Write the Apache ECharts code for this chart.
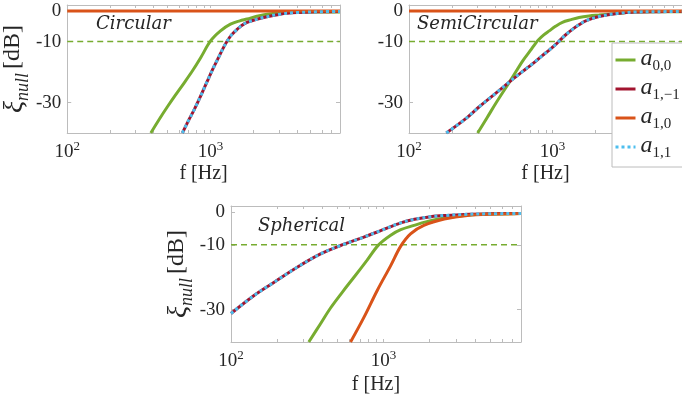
<!DOCTYPE html>
<html>
<head>
<meta charset="utf-8">
<script src="https://cdn.jsdelivr.net/npm/echarts@6/dist/echarts.min.js"></script>
<style>
html, body { margin: 0; padding: 0; background: #fff; }
#container { width: 682px; height: 402px; }
</style>
</head>
<body>
<div id="container"></div>
<script>
// panel titles and legend entries
var panelTitles = ['Circular', 'SemiCircular', 'Spherical'];
var legendNames = ['a00', 'a1m1', 'a10', 'a11'];
var legendSubs = { a00: '0,0', a1m1: '1,\u22121', a10: '1,0', a11: '1,1' };

// axis ticks
var xLabelTicks = [100, 1000];
var xMinorTicks = [100, 200, 300, 400, 500, 600, 700, 800, 900, 1000, 2000, 3000, 4000, 5000, 6000, 7000, 8000];
var yTicks = [-30, -10, 0];

// -10 dB threshold line
var thresholdFreq = [100, 8000];
var thresholdDb = [-10, -10];

// Circular
var circFreqA00 = [383, 440, 500, 570, 653, 750, 853, 1000, 1173, 1377, 1600, 1798, 2100, 2477, 3235, 4500, 6000, 8000];
var circA00 = [-40, -35.4, -31.4, -27.5, -23.6, -19.5, -15.3, -9.8, -6.5, -4.3, -3.2, -2.6, -1.7, -1.0, -0.5, -0.3, -0.3, -0.3];
var circFreqA1 = [636, 700, 766, 860, 949, 1050, 1143, 1220, 1300, 1400, 1532, 1650, 1798, 2100, 2345, 3062, 4000, 6000, 8000];
var circA1 = [-40, -36, -32.5, -27.5, -23, -18.5, -15, -12.3, -10, -7.8, -6, -4.7, -3.7, -2.7, -2.1, -1.0, -0.5, -0.2, -0.1];
var circFreqA10 = [100, 8000];
var circA10 = [0, 0];

// SemiCircular
var semiFreqA00 = [301, 350, 406, 514, 619, 700, 767, 800, 870, 949, 1050, 1173, 1350, 1532, 1800, 2110, 2905, 3800, 5500, 8000];
var semiA00 = [-40, -35, -30, -22.5, -16.4, -13, -10.4, -9.4, -7.8, -6.5, -5, -3.7, -2.8, -2.1, -1.6, -1.3, -0.7, -0.3, -0.2, -0.2];
var semiFreqA1 = [182, 250, 310, 426, 514, 620, 726, 850, 949, 1050, 1143, 1250, 1377, 1530, 1706, 2110, 2905, 3800, 5500, 8000];
var semiA1 = [-40, -35.2, -31.3, -26, -22.8, -19.8, -17.3, -14.6, -12.8, -11, -9.3, -7.6, -6, -4.5, -3.2, -1.8, -0.7, -0.3, -0.2, -0.1];
var semiFreqA10 = [100, 8000];
var semiA10 = [0, 0];

// Spherical
var sphFreqA00 = [324, 385, 450, 540, 641, 780, 930, 1117, 1300, 1587, 1900, 2265, 2800, 3390, 5080, 8000];
var sphA00 = [-40, -34.5, -29.5, -24.5, -20, -14.8, -10, -7, -5.3, -4, -2.9, -2.1, -1.4, -0.9, -0.5, -0.3];
var sphFreqA1 = [100, 141, 191, 272, 387, 524, 745, 960, 1300, 1600, 2048, 2600, 3390, 5000, 8000];
var sphA1 = [-31.2, -25.7, -21.6, -16.9, -12.8, -10.2, -7.6, -5.6, -3.2, -2.1, -1.3, -0.9, -0.6, -0.4, -0.3];
var sphFreqA10 = [609, 745, 913, 1117, 1300, 1507, 1843, 2510, 3560, 5580, 8000];
var sphA10 = [-40, -32.4, -24, -16.4, -10.4, -6.6, -4, -2, -0.9, -0.5, -0.3];

var panels = [
    { a00: [circFreqA00, circA00], a1: [circFreqA1, circA1], a10: [circFreqA10, circA10] },
    { a00: [semiFreqA00, semiA00], a1: [semiFreqA1, semiA1], a10: [semiFreqA10, semiA10] },
    { a00: [sphFreqA00, sphA00], a1: [sphFreqA1, sphA1], a10: [sphFreqA10, sphA10] }
];

var serif = "'Liberation Serif', 'DejaVu Serif', serif";
var titleFont = "'DejaVu Serif', 'Liberation Serif', serif";
var textColor = '#262626';
var boxColor = '#bcbcbc';
var colors = { a00: '#77AC30', a1m1: '#A2142F', a10: '#D95319', a11: '#4DBEEE' };

var grids = [
    { left: 66, top: 5, width: 274, height: 128 },
    { left: 409, top: 5, width: 274, height: 128 },
    { left: 231, top: 206, width: 290, height: 136 }
];
var titlePos = [[96, 15], [417, 15], [258, 217]];

var dom = document.getElementById('container');
var myChart = echarts.init(dom);

function pairs(f, v) {
    return f.map(function (x, i) { return [x, v[i]]; });
}

var xAxes = [], yAxes = [], series = [], titles = [];

grids.forEach(function (g, i) {
    var baseX = {
        gridIndex: i, type: 'log', logBase: 10, min: 100, max: 8000,
        axisLine: { show: true, onZero: false, lineStyle: { color: boxColor, width: 1 } },
        axisTick: { inside: true, length: 3, customValues: xMinorTicks, lineStyle: { color: boxColor } },
        splitLine: { show: false }, minorTick: { show: false }
    };
    xAxes.push(echarts.util.merge({
        position: 'bottom',
        axisLabel: {
            customValues: xLabelTicks, margin: 7, color: textColor,
            formatter: function (v) { return '{b|10}{p|' + Math.round(Math.log10(v)) + '}'; },
            rich: {
                b: { fontFamily: serif, fontSize: 19, lineHeight: 24, color: textColor },
                p: { fontFamily: serif, fontSize: 13, lineHeight: 13, verticalAlign: 'top', color: textColor }
            }
        },
        name: 'f [Hz]', nameLocation: 'middle', nameGap: i === 2 ? 33 : 31,
        nameTextStyle: { fontFamily: serif, fontSize: 20, color: textColor }
    }, baseX, true));
    xAxes.push(echarts.util.merge({ position: 'top', axisLabel: { show: false } }, baseX, true));

    var baseY = {
        gridIndex: i, type: 'value', min: -40, max: 2,
        axisLine: { show: true, onZero: false, lineStyle: { color: boxColor, width: 1 } },
        axisTick: { inside: true, length: 4, customValues: yTicks, lineStyle: { color: boxColor } },
        splitLine: { show: false }
    };
    var yLeft = echarts.util.merge({
        position: 'left',
        axisLabel: { customValues: yTicks, margin: 6, fontFamily: serif, fontSize: 19, color: textColor }
    }, baseY, true);
    if (i !== 1) {
        yLeft.name = '{x|\u03BE}{s|null}{n|[dB]}';
        yLeft.nameLocation = 'middle';
        yLeft.nameRotate = 90;
        yLeft.nameGap = i === 2 ? 36 : 38;
        yLeft.nameTextStyle = {
            rich: {
                x: { fontFamily: serif, fontStyle: 'italic', fontSize: 28, lineHeight: 28, verticalAlign: 'top', color: textColor },
                s: { fontFamily: serif, fontStyle: 'italic', fontSize: 18, lineHeight: 18, padding: [13, 4, 0, 0], verticalAlign: 'top', color: textColor },
                n: { fontFamily: serif, fontSize: 24, lineHeight: 28, verticalAlign: 'top', color: textColor }
            }
        };
    }
    yAxes.push(yLeft);
    yAxes.push(echarts.util.merge({ position: 'right', axisLabel: { show: false } }, baseY, true));

    titles.push({
        text: panelTitles[i],
        left: titlePos[i][0], top: titlePos[i][1], padding: 0,
        textStyle: { fontFamily: titleFont, fontStyle: 'italic', fontWeight: 'normal', fontSize: 18, color: textColor }
    });

    var p = panels[i];
    var common = { xAxisIndex: 2 * i, yAxisIndex: 2 * i, type: 'line', symbol: 'none', smooth: 0.35, animation: false, silent: true };
    series.push(echarts.util.merge({
        name: 'threshold', data: pairs(thresholdFreq, thresholdDb), smooth: false,
        lineStyle: { color: colors.a00, width: 1.5, type: [6, 4] }, itemStyle: { color: colors.a00 }
    }, common, false));
    series.push(echarts.util.merge({
        name: 'a00', data: pairs(p.a00[0], p.a00[1]),
        lineStyle: { color: colors.a00, width: 3 }, itemStyle: { color: colors.a00 }
    }, common, true));
    series.push(echarts.util.merge({
        name: 'a1m1', data: pairs(p.a1[0], p.a1[1]),
        lineStyle: { color: colors.a1m1, width: 3 }, itemStyle: { color: colors.a1m1 }
    }, common, true));
    series.push(echarts.util.merge({
        name: 'a10', data: pairs(p.a10[0], p.a10[1]),
        lineStyle: { color: colors.a10, width: 3 }, itemStyle: { color: colors.a10 }
    }, common, true));
    series.push(echarts.util.merge({
        name: 'a11', data: pairs(p.a1[0], p.a1[1]),
        lineStyle: { color: colors.a11, width: 3, type: [3, 3] }, itemStyle: { color: colors.a11 }
    }, common, true));
});

var option = {
    backgroundColor: '#fff',
    animation: false,
    title: titles,
    grid: grids,
    xAxis: xAxes,
    yAxis: yAxes,
    legend: {
        data: legendNames,
        orient: 'vertical',
        left: 612, top: 43,
        itemWidth: 20, itemHeight: 12, itemGap: 2,
        padding: [4, 20, 6, 2],
        backgroundColor: '#fff',
        borderColor: boxColor, borderWidth: 1,
        selectedMode: false,
        itemStyle: { opacity: 0 },
        lineStyle: { width: 3 },
        formatter: function (name) { return '{a|a}{s|' + legendSubs[name] + '}'; },
        textStyle: {
            rich: {
                a: { fontFamily: serif, fontStyle: 'italic', fontSize: 24, lineHeight: 26, verticalAlign: 'top', color: textColor },
                s: { fontFamily: serif, fontSize: 15, lineHeight: 15, padding: [12, 0, 0, 0], verticalAlign: 'top', color: textColor }
            }
        }
    },
    series: series
};

if (option && typeof option === "object") {
    myChart.setOption(option, true);
}
</script>
</body>
</html>
